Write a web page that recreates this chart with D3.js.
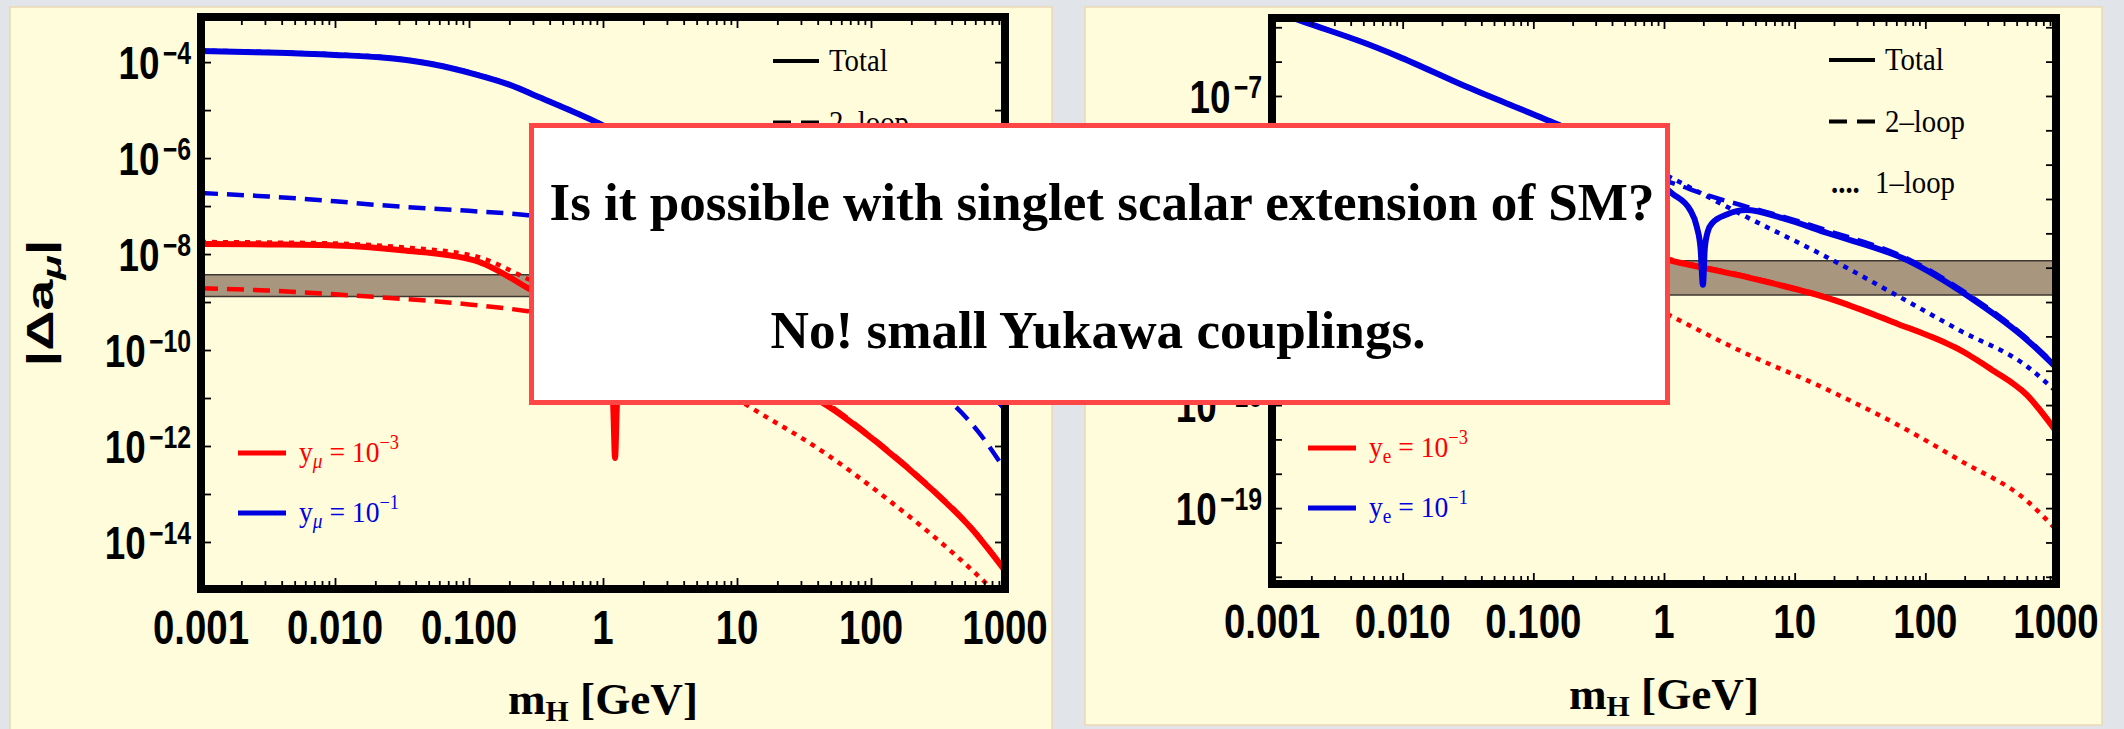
<!DOCTYPE html>
<html>
<head>
<meta charset="utf-8">
<script src="https://cdn.jsdelivr.net/npm/d3@7"></script>
<style>
  html, body { margin: 0; padding: 0; background: #e1e4e8; }
  svg { display: block; }
</style>
</head>
<body>
<div id="container"></div>
<script>

// axis ticks
const massTicks = [0.001, 0.01, 0.1, 1, 10, 100, 1000];
const massTickLabels = ["0.001", "0.010", "0.100", "1", "10", "100", "1000"];
const muExpLabels = [-4, -6, -8, -10, -12, -14];
const eExpLabels = [-7, -10, -13, -16, -19];

// experimental bands |Δa|
const muBand = [1.3e-9, 3.7e-9];
const eBand = [1.6e-13, 1.6e-12];

// curves: [log10 mH/GeV, log10 |Δa|]
// muon, y_mu = 1e-3
const muRedTotal = [[-3,-7.79],[-2.5,-7.8],[-2,-7.82],[-1.5,-7.92],[-0.96,-8.13],[-0.56,-8.71],[-0.3,-9.15],[-0.1,-9.6],[0.03,-10.3],[0.075,-11.1],[0.09,-12.25],[0.105,-11.1],[0.15,-10.6],[0.3,-10.25],[0.6,-10.15],[1,-10.35],[1.3,-10.65],[1.64,-11.1],[2.07,-11.98],[2.46,-12.92],[2.74,-13.69],[3,-14.6]];
const muRedTwoLoop = [[-3,-8.71],[-2.5,-8.76],[-2,-8.84],[-1.67,-8.9],[-1,-9.05],[-0.56,-9.19],[0,-9.45],[0.5,-9.8],[1,-10.25],[1.64,-11.06],[2.07,-11.96],[2.46,-12.9],[2.74,-13.67],[3,-14.58]];
const muRedOneLoop = [[-3,-7.75],[-2.5,-7.76],[-2,-7.78],[-1.5,-7.86],[-0.96,-8.04],[-0.56,-8.52],[-0.2,-9.0],[0.09,-9.45],[0.5,-10.1],[1.075,-11.15],[1.62,-12.08],[2.16,-13.19],[2.6,-14.2],[2.91,-15.0],[3,-15.25]];
// muon, y_mu = 1e-1
const muBlueTotal = [[-3,-3.77],[-2.5,-3.8],[-2,-3.85],[-1.67,-3.9],[-1.3,-4.03],[-0.96,-4.25],[-0.7,-4.47],[-0.46,-4.75],[-0.05,-5.25],[0.5,-6.05],[1,-6.95],[1.5,-7.9],[2,-8.9],[2.5,-10.0],[2.96,-11.1],[3,-11.22]];
const muBlueTwoLoop = [[-3,-6.73],[-2.5,-6.8],[-2,-6.9],[-1.67,-6.98],[-1,-7.1],[-0.56,-7.19],[0,-7.45],[0.5,-7.8],[1,-8.25],[1.64,-9.05],[2.07,-9.95],[2.46,-10.8],[2.6,-11.1],[2.8,-11.7],[3,-12.5]];
const muBlueOneLoop = [[-3,-3.76],[-2.5,-3.79],[-2,-3.84],[-1.67,-3.89],[-1.3,-4.02],[-0.96,-4.24],[-0.7,-4.46],[-0.46,-4.74],[-0.05,-5.24],[0.5,-6.04],[1,-6.94],[1.5,-7.89],[2,-8.89],[2.5,-9.99],[2.96,-11.08],[3,-11.2]];
// electron, y_e = 1e-3
const eRedTotal = [[-3,-8.55],[-2.5,-9.2],[-2.1,-9.95],[-1.9,-10.6],[-1.8,-12.0],[-1.7,-10.6],[-1.4,-10.55],[-1,-10.85],[-0.5,-11.25],[0.06,-11.8],[0.73,-12.36],[1.25,-12.88],[1.75,-13.58],[2.3,-14.47],[2.5,-14.95],[2.78,-15.72],[3,-16.76]];
const eRedTwoLoop = [[-3,-10.0],[-2,-10.3],[-1,-10.75],[-0.5,-11.2],[0.06,-11.77],[0.73,-12.34],[1.25,-12.86],[1.75,-13.56],[2.3,-14.45],[2.5,-14.93],[2.78,-15.7],[3,-16.74]];
const eRedOneLoop = [[-3,-8.5],[-2,-10.0],[-1,-11.55],[-0.4,-12.5],[0.06,-13.42],[0.6,-14.45],[1.25,-15.55],[1.8,-16.6],[2.26,-17.6],[2.78,-18.8],[3,-19.62]];
// electron, y_e = 1e-1
const eBlueTotal = [[-3,-4.51],[-2.75,-4.85],[-2.29,-5.46],[-2.04,-5.84],[-1.52,-6.72],[-0.84,-7.79],[-0.4,-8.55],[0.06,-9.83],[0.2,-10.32],[0.25,-10.8],[0.28,-11.45],[0.298,-12.5],[0.312,-11.45],[0.335,-10.95],[0.37,-10.7],[0.48,-10.45],[0.63,-10.32],[0.9,-10.55],[1.25,-10.99],[1.86,-11.78],[2.34,-12.86],[2.78,-14.11],[3,-14.9]];
const eBlueTwoLoop = [[-3,-8.0],[-2,-8.3],[-1,-8.75],[-0.5,-9.1],[0.06,-9.53],[0.3,-9.85],[0.63,-10.22],[0.9,-10.5],[1.25,-10.92],[1.86,-11.73],[2.34,-12.81],[2.78,-14.07],[3,-14.86]];
const eBlueOneLoop = [[-3,-4.5],[-2.75,-4.84],[-2.29,-5.45],[-2.04,-5.83],[-1.52,-6.71],[-0.84,-7.77],[-0.4,-8.5],[0.06,-9.39],[0.63,-10.52],[1.25,-11.7],[1.75,-12.74],[2.26,-13.82],[2.78,-14.88],[3,-15.6]];

const legendRows = ["Total", "2–loop", "1–loop"];
const questionText = "Is it possible with singlet scalar extension of SM?";
const answerText = "No! small Yukawa couplings.";

const SANS = "'Liberation Sans', Arial, sans-serif";
const SERIF = "'Liberation Serif', 'Times New Roman', serif";
const RED = "#ff0000", BLUE = "#0000e0";

const W = 2124, H = 729;

const svg = d3.select("#container").append("svg")
    .attr("width", W)
    .attr("height", H);

svg.append("rect").attr("width", W).attr("height", H).attr("fill", "#e1e4e8");

// the two cream slides
svg.append("rect").attr("x", 10).attr("y", 7).attr("width", 1042).attr("height", 740)
    .attr("fill", "#fffcdc").attr("stroke", "#ecd8b4").attr("stroke-width", 1.5);
svg.append("rect").attr("x", 1085).attr("y", 7).attr("width", 1017).attr("height", 718)
    .attr("fill", "#fffcdc").attr("stroke", "#ecd8b4").attr("stroke-width", 1.5);

const panels = [
  { left: 201, right: 1005, top: 17, bottom: 589, yMin: -14.98, yMax: -3.06,
    band: muBand, exps: muExpLabels, lep: "μ", lepItalic: true,
    red: [muRedOneLoop, muRedTwoLoop, muRedTotal], blue: [muBlueOneLoop, muBlueTwoLoop, muBlueTotal],
    legX: 773, legY: 61, colX: 238, colY: 453, titleY: 714, yTitleX: 53, labY: 55 },
  { left: 1272, right: 2056, top: 18, bottom: 584, yMin: -21.21, yMax: -4.73,
    band: eBand, exps: eExpLabels, lep: "e", lepItalic: false,
    red: [eRedOneLoop, eRedTwoLoop, eRedTotal], blue: [eBlueOneLoop, eBlueTwoLoop, eBlueTotal],
    legX: 1829, legY: 60, colX: 1308, colY: 448, titleY: 709, yTitleX: 1124, labY: 54 }
];

// one-loop, two-loop, total
const kinds = [
  { w: 4.5, dash: "5,6" },
  { w: 4.5, dash: "17,9" },
  { w: 6, dash: null }
];

const decades = d3.range(-3, 4).map(e => 10 ** e);
let minor = [];
d3.range(-3, 3).forEach(e => d3.range(2, 10).forEach(k => minor.push(k * 10 ** e)));

function styleAxis(g) {
  g.select(".domain").remove();
  g.selectAll("line").attr("stroke", "#000").attr("stroke-width", 1.8);
}

panels.forEach((p, i) => {
  const x = d3.scaleLog().domain([1e-3, 1e3]).range([p.left, p.right]);
  const y = d3.scaleLog().domain([10 ** p.yMin, 10 ** p.yMax]).range([p.bottom, p.top]);

  svg.append("defs").append("clipPath").attr("id", "clip" + i)
    .append("rect").attr("x", p.left).attr("y", p.top)
    .attr("width", p.right - p.left).attr("height", p.bottom - p.top);

  const plot = svg.append("g").attr("clip-path", `url(#clip${i})`);

  // band
  plot.append("rect")
    .attr("x", p.left).attr("width", p.right - p.left)
    .attr("y", y(p.band[1])).attr("height", y(p.band[0]) - y(p.band[1]))
    .attr("fill", "#a8967e");
  p.band.forEach(b => plot.append("line")
    .attr("x1", p.left).attr("x2", p.right).attr("y1", y(b)).attr("y2", y(b))
    .attr("stroke", "#3c3730").attr("stroke-width", 1.5));

  const line = d3.line()
    .x(d => x(10 ** d[0]))
    .y(d => y(10 ** d[1]))
    .curve(d3.curveMonotoneX);

  [[RED, p.red], [BLUE, p.blue]].forEach(([col, set]) => {
    set.forEach((data, k) => {
      plot.append("path").datum(data)
        .attr("d", line)
        .attr("fill", "none")
        .attr("stroke", col)
        .attr("stroke-width", kinds[k].w)
        .attr("stroke-dasharray", kinds[k].dash);
    });
  });

  // ticks on all four sides, pointing in
  const yDec = d3.range(Math.ceil(p.yMin), Math.floor(p.yMax) + 1).map(e => 10 ** e);
  svg.append("g").attr("transform", `translate(0,${p.bottom})`)
    .call(d3.axisBottom(x).tickValues(decades).tickSize(-11).tickFormat("")).call(styleAxis);
  svg.append("g").attr("transform", `translate(0,${p.bottom})`)
    .call(d3.axisBottom(x).tickValues(minor).tickSize(-8).tickFormat("")).call(styleAxis);
  svg.append("g").attr("transform", `translate(0,${p.top})`)
    .call(d3.axisTop(x).tickValues(decades).tickSize(-11).tickFormat("")).call(styleAxis);
  svg.append("g").attr("transform", `translate(0,${p.top})`)
    .call(d3.axisTop(x).tickValues(minor).tickSize(-8).tickFormat("")).call(styleAxis);
  svg.append("g").attr("transform", `translate(${p.left},0)`)
    .call(d3.axisLeft(y).tickValues(yDec).tickSize(-10).tickFormat("")).call(styleAxis);
  svg.append("g").attr("transform", `translate(${p.right},0)`)
    .call(d3.axisRight(y).tickValues(yDec).tickSize(-10).tickFormat("")).call(styleAxis);

  // frame
  svg.append("rect")
    .attr("x", p.left).attr("y", p.top)
    .attr("width", p.right - p.left).attr("height", p.bottom - p.top)
    .attr("fill", "none").attr("stroke", "#000").attr("stroke-width", 8);

  // x tick labels
  massTicks.forEach((v, j) => {
    svg.append("text")
      .attr("transform", `translate(${x(v)},${p.bottom + p.labY}) scale(0.8,1)`)
      .attr("text-anchor", "middle")
      .attr("font-family", SANS).attr("font-weight", "bold").attr("font-size", 48)
      .text(massTickLabels[j]);
  });

  // y tick labels 10^n
  p.exps.forEach(e => {
    const t = svg.append("text")
      .attr("transform", `translate(${p.left - 10},${y(10 ** e) + 17}) scale(0.8,1)`)
      .attr("text-anchor", "end")
      .attr("font-family", SANS).attr("font-weight", "bold");
    t.append("tspan").attr("font-size", 46).text("10");
    t.append("tspan").attr("font-size", 31).attr("dx", 4).attr("dy", -15).text("−" + Math.abs(e));
  });

  // y title
  const yt = svg.append("text")
    .attr("transform", `translate(${p.yTitleX},${(p.top + p.bottom) / 2}) rotate(-90)`)
    .attr("text-anchor", "middle")
    .attr("font-family", SANS).attr("font-weight", "bold").attr("font-size", 36)
    .attr("textLength", 127).attr("lengthAdjust", "spacingAndGlyphs");
  yt.append("tspan").text("|Δa");
  yt.append("tspan").attr("font-size", 26).attr("dy", 8)
    .attr("font-style", p.lepItalic ? "italic" : "normal").text(p.lep);
  yt.append("tspan").attr("dy", -8).text("|");

  // x title
  const xt = svg.append("text")
    .attr("x", (p.left + p.right) / 2).attr("y", p.titleY)
    .attr("text-anchor", "middle")
    .attr("font-family", SERIF).attr("font-weight", "bold").attr("font-size", 44)
    .attr("textLength", 190).attr("lengthAdjust", "spacingAndGlyphs")
    .style("white-space", "pre");
  xt.append("tspan").text("m");
  xt.append("tspan").attr("font-size", 29).attr("dy", 7).text("H");
  xt.append("tspan").attr("dy", -7).text(" [GeV]");

  // black legend: Total / 2-loop / 1-loop
  legendRows.forEach((lab, k) => {
    const ly = p.legY + k * 61.5;
    if (k < 2) {
      svg.append("line")
        .attr("x1", p.legX).attr("x2", p.legX + 46).attr("y1", ly).attr("y2", ly)
        .attr("stroke", "#000").attr("stroke-width", 4)
        .attr("stroke-dasharray", k === 1 ? "18,10" : null);
    } else {
      svg.append("text")
        .attr("transform", `translate(${p.legX + 2},${ly + 10}) scale(0.9,1)`)
        .attr("font-family", SERIF).attr("font-weight", "bold").attr("font-size", 32)
        .text("....");
    }
    svg.append("text")
      .attr("transform", `translate(${p.legX + (k === 2 ? 46 : 56)},${ly + 10}) scale(0.9,1)`)
      .attr("font-family", SERIF).attr("font-size", 32)
      .text(lab);
  });

  // coloured legend: y_l = 10^-3 / 10^-1
  [[RED, "−3"], [BLUE, "−1"]].forEach(([col, ex], k) => {
    const ly = p.colY + k * 60;
    svg.append("line")
      .attr("x1", p.colX).attr("x2", p.colX + 48).attr("y1", ly).attr("y2", ly)
      .attr("stroke", col).attr("stroke-width", 5);
    const t = svg.append("text")
      .attr("transform", `translate(${p.colX + 61},${ly + 9}) scale(0.92,1)`)
      .attr("font-family", SERIF).attr("font-size", 30).attr("fill", col)
      .style("white-space", "pre");
    t.append("tspan").text("y");
    t.append("tspan").attr("font-size", 21).attr("dy", 6)
      .attr("font-style", p.lepItalic ? "italic" : "normal").text(p.lep);
    t.append("tspan").attr("dy", -6).text(" = 10");
    t.append("tspan").attr("font-size", 20).attr("dy", -13).text(ex);
  });
});

// the overlay question box
svg.append("rect")
  .attr("x", 531.5).attr("y", 125.5).attr("width", 1136).attr("height", 277)
  .attr("fill", "#ffffff").attr("stroke", "#ff4646").attr("stroke-width", 5);

svg.append("text")
  .attr("x", 1102).attr("y", 220)
  .attr("text-anchor", "middle")
  .attr("font-family", SERIF).attr("font-weight", "bold").attr("font-size", 53)
  .attr("textLength", 1105).attr("lengthAdjust", "spacingAndGlyphs")
  .text(questionText);

svg.append("text")
  .attr("x", 1098).attr("y", 348)
  .attr("text-anchor", "middle")
  .attr("font-family", SERIF).attr("font-weight", "bold").attr("font-size", 53)
  .attr("textLength", 655).attr("lengthAdjust", "spacingAndGlyphs")
  .text(answerText);

</script>
</body>
</html>
